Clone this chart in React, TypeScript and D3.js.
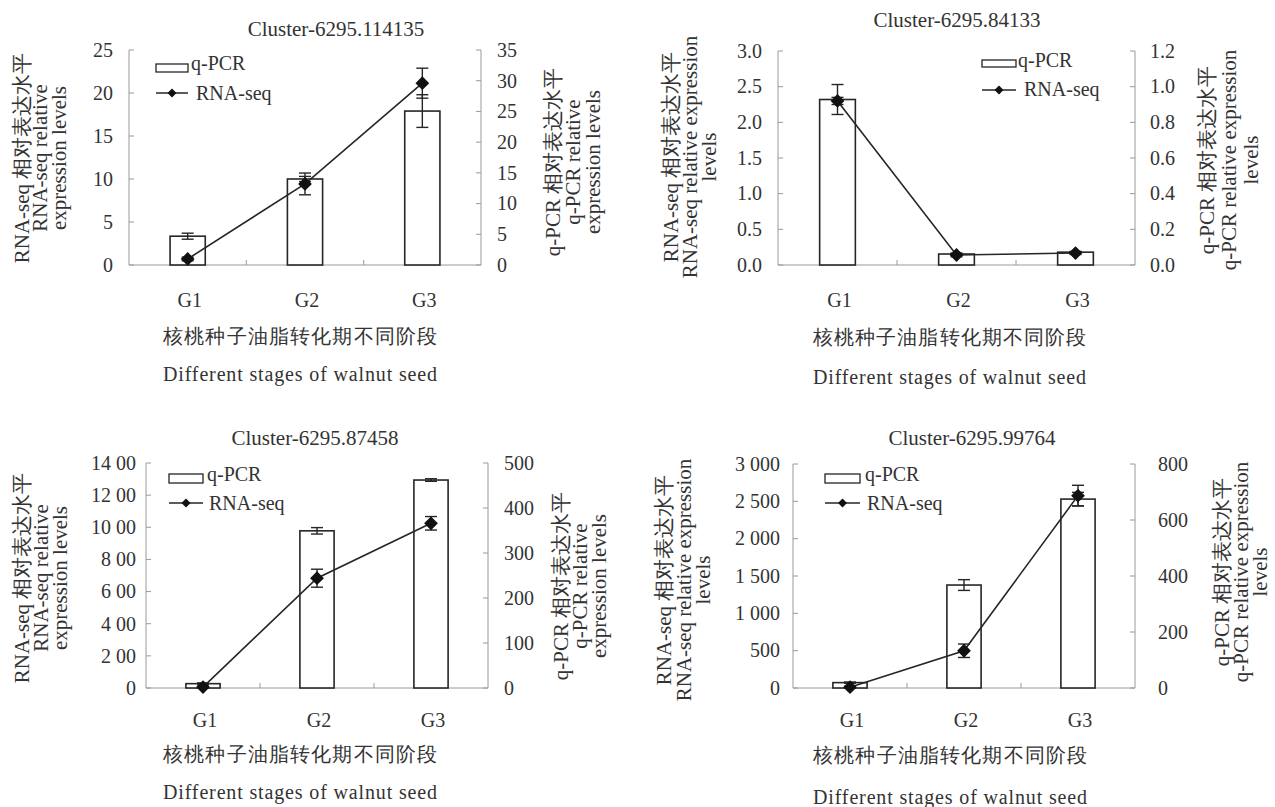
import React from 'react';
import * as d3 from 'd3';

// ---------------- DATA ----------------
const categories = ['G1', 'G2', 'G3'];
const titles = ['Cluster-6295.114135', 'Cluster-6295.84133', 'Cluster-6295.87458', 'Cluster-6295.99764'];
const legendLabels = ['q-PCR', 'RNA-seq'];
const xTitleCn = '核桃种子油脂转化期不同阶段';
const xTitleEn = 'Different stages of walnut seed';

// left-axis (bars) and right-axis (line) series, per panel
const qpcr1 = [3.35, 10.0, 17.9];
const qpcrErr1 = [0.35, 0.3, 1.9];
const rnaseq1 = [0.98, 13.2, 29.6];
const rnaseqErr1 = [0.3, 1.77, 2.44];

const qpcr2 = [2.32, 0.154, 0.18];
const qpcrErr2 = [0.21, 0.01, 0.01];
const rnaseq2 = [0.92, 0.056, 0.067];
const rnaseqErr2 = [0.02, 0.01, 0.008];

const qpcr3 = [27, 978, 1294];
const qpcrErr3 = [5, 20, 8];
const rnaseq3 = [2, 244, 366];
const rnaseqErr3 = [2, 20, 15];

const qpcr4 = [72, 1379, 2530];
const qpcrErr4 = [8, 72, 90];
const rnaseq4 = [3, 133, 687];
const rnaseqErr4 = [3, 24, 37];

// tick values and labels
const leftTicks1 = [0, 5, 10, 15, 20, 25];
const leftTickLabels1 = ['0', '5', '10', '15', '20', '25'];
const rightTicks1 = [0, 5, 10, 15, 20, 25, 30, 35];
const rightTickLabels1 = ['0', '5', '10', '15', '20', '25', '30', '35'];

const leftTicks2 = [0, 0.5, 1, 1.5, 2, 2.5, 3];
const leftTickLabels2 = ['0.0', '0.5', '1.0', '1.5', '2.0', '2.5', '3.0'];
const rightTicks2 = [0, 0.2, 0.4, 0.6, 0.8, 1.0, 1.2];
const rightTickLabels2 = ['0.0', '0.2', '0.4', '0.6', '0.8', '1.0', '1.2'];

const leftTicks3 = [0, 200, 400, 600, 800, 1000, 1200, 1400];
const leftTickLabels3 = ['0', '2 00', '4 00', '6 00', '8 00', '10 00', '12 00', '14 00'];
const rightTicks3 = [0, 100, 200, 300, 400, 500];
const rightTickLabels3 = ['0', '100', '200', '300', '400', '500'];

const leftTicks4 = [0, 500, 1000, 1500, 2000, 2500, 3000];
const leftTickLabels4 = ['0', '500', '1 000', '1 500', '2 000', '2 500', '3 000'];
const rightTicks4 = [0, 200, 400, 600, 800];
const rightTickLabels4 = ['0', '200', '400', '600', '800'];

const leftTitleA = ['RNA-seq 相对表达水平', 'RNA-seq relative', 'expression levels'];
const rightTitleA = ['q-PCR 相对表达水平', 'q-PCR relative', 'expression levels'];
const leftTitleB = ['RNA-seq 相对表达水平', 'RNA-seq relative expression', 'levels'];
const rightTitleB = ['q-PCR 相对表达水平', 'q-PCR relative expression', 'levels'];

// ---------------- LAYOUT ----------------
const panels = [
  {
    title: titles[0], bars: qpcr1, barErr: qpcrErr1, line: rnaseq1, lineErr: rnaseqErr1,
    lt: leftTicks1, ltl: leftTickLabels1, rt: rightTicks1, rtl: rightTickLabels1,
    leftTitle: leftTitleA, rightTitle: rightTitleA,
    plot: { left: 129, right: 481, top: 50, bottom: 265 },
    titlePos: { x: 336, y: 36 },
    legend: { x: 156, w: 32, boxTop: 64, boxH: 8, t1x: 191, t1y: 70, ly: 93, t2x: 196, t2y: 100 },
    leftTitleX: [22, 40, 59], leftTitleY: 158, rightTitleX: [553, 573, 593], rightTitleY: 162,
    leftTickX: 113, rightTickX: 497,
    bottom: { gy: 300, cny: 336, eny: 374, x0: 163, x1: 437 },
  },
  {
    title: titles[1], bars: qpcr2, barErr: qpcrErr2, line: rnaseq2, lineErr: rnaseqErr2,
    lt: leftTicks2, ltl: leftTickLabels2, rt: rightTicks2, rtl: rightTickLabels2,
    leftTitle: leftTitleB, rightTitle: rightTitleB,
    plot: { left: 778, right: 1135, top: 51, bottom: 265 },
    titlePos: { x: 957, y: 27 },
    legend: { x: 982, w: 34, boxTop: 60, boxH: 7, t1x: 1018, t1y: 67, ly: 90, t2x: 1024, t2y: 96 },
    leftTitleX: [671, 690, 709], leftTitleY: 157, rightTitleX: [1207, 1229, 1251], rightTitleY: 160,
    leftTickX: 762, rightTickX: 1150,
    bottom: { gy: 300, cny: 337, eny: 377, x0: 813, x1: 1086 },
  },
  {
    title: titles[2], bars: qpcr3, barErr: qpcrErr3, line: rnaseq3, lineErr: rnaseqErr3,
    lt: leftTicks3, ltl: leftTickLabels3, rt: rightTicks3, rtl: rightTickLabels3,
    leftTitle: leftTitleA, rightTitle: rightTitleA,
    plot: { left: 146, right: 488, top: 463, bottom: 688 },
    titlePos: { x: 315, y: 445 },
    legend: { x: 169, w: 34, boxTop: 474, boxH: 9, t1x: 207, t1y: 481, ly: 503, t2x: 209, t2y: 510 },
    leftTitleX: [22, 41, 60], leftTitleY: 578, rightTitleX: [561, 580, 599], rightTitleY: 586,
    leftTickX: 136, rightTickX: 504,
    bottom: { gy: 720, cny: 754, eny: 792, x0: 163, x1: 437 },
  },
  {
    title: titles[3], bars: qpcr4, barErr: qpcrErr4, line: rnaseq4, lineErr: rnaseqErr4,
    lt: leftTicks4, ltl: leftTickLabels4, rt: rightTicks4, rtl: rightTickLabels4,
    leftTitle: leftTitleB, rightTitle: rightTitleB,
    plot: { left: 793, right: 1135, top: 464, bottom: 688 },
    titlePos: { x: 972, y: 445 },
    legend: { x: 825, w: 35, boxTop: 474, boxH: 9, t1x: 865, t1y: 481, ly: 503, t2x: 867, t2y: 510 },
    leftTitleX: [664, 684, 703], leftTitleY: 580, rightTitleX: [1222, 1241, 1260], rightTitleY: 572,
    leftTickX: 780, rightTickX: 1158,
    bottom: { gy: 720, cny: 755, eny: 797, x0: 813, x1: 1087 },
  },
];

const FONT = "'Liberation Serif', 'Times New Roman', serif";
const TEXT = '#333333';
const AXIS = '#9a9a9a';
const INK = '#262626';
const FS = 20;
const FS_TITLE = 21;

function diamondPath(size: number) {
  return d3.symbol().type(d3.symbolSquare).size(size)() as string;
}

function Panel({ p }: { p: any }) {
  const { plot } = p;
  const x = d3.scaleBand<string>().domain(categories).range([plot.left, plot.right])
    .paddingInner(0.7).paddingOuter(0.35);
  const step = (plot.right - plot.left) / categories.length;
  const yL = d3.scaleLinear().domain([p.lt[0], p.lt[p.lt.length - 1]]).range([plot.bottom, plot.top]);
  const yR = d3.scaleLinear().domain([p.rt[0], p.rt[p.rt.length - 1]]).range([plot.bottom, plot.top]);
  const cx = (i: number) => (x(categories[i]) as number) + x.bandwidth() / 2;
  const linePath = d3.line<number>().x((_, i) => cx(i)).y((d) => yR(d))(p.line) as string;
  const cap = 6;
  const dia = diamondPath(95);
  const diaSmall = diamondPath(40);
  const b = p.bottom;
  const tp = { fontSize: FS, fill: TEXT, fontFamily: FONT };
  const tpT = { fontSize: FS_TITLE, fill: TEXT, fontFamily: FONT };

  return (
    <g>
      <text x={p.titlePos.x} y={p.titlePos.y} textAnchor="middle" {...tpT}>{p.title}</text>

      {/* axes */}
      <line x1={plot.left} x2={plot.left} y1={plot.top} y2={plot.bottom} stroke={AXIS} strokeWidth={1} />
      <line x1={plot.right} x2={plot.right} y1={plot.top} y2={plot.bottom} stroke={AXIS} strokeWidth={1} />
      <line x1={plot.left} x2={plot.right} y1={plot.bottom} y2={plot.bottom} stroke={AXIS} strokeWidth={1} />
      {p.lt.map((t: number, i: number) => (
        <g key={'lt' + i}>
          <line x1={plot.left} x2={plot.left + 5} y1={yL(t)} y2={yL(t)} stroke={AXIS} />
          <text x={p.leftTickX} y={yL(t)} dy="0.34em" textAnchor="end" {...tp}>{p.ltl[i]}</text>
        </g>
      ))}
      {p.rt.map((t: number, i: number) => (
        <g key={'rt' + i}>
          <line x1={plot.right} x2={plot.right - 5} y1={yR(t)} y2={yR(t)} stroke={AXIS} />
          <text x={p.rightTickX} y={yR(t)} dy="0.34em" textAnchor="start" {...tp}>{p.rtl[i]}</text>
        </g>
      ))}
      {d3.range(1, categories.length).map((k) => (
        <line key={'xt' + k} x1={plot.left + step * k} x2={plot.left + step * k} y1={plot.bottom} y2={plot.bottom - 5} stroke={AXIS} />
      ))}

      {/* bars */}
      {p.bars.map((v: number, i: number) => (
        <rect key={'b' + i} x={x(categories[i])} y={yL(v)} width={x.bandwidth()} height={plot.bottom - yL(v)}
          fill="#fff" stroke={INK} strokeWidth={1.6} />
      ))}
      {p.bars.map((v: number, i: number) => {
        const e = p.barErr[i];
        const y1 = yL(v + e), y2 = yL(Math.max(0, v - e));
        return (
          <g key={'be' + i} stroke={INK} strokeWidth={1.4}>
            <line x1={cx(i)} x2={cx(i)} y1={y1} y2={y2} />
            <line x1={cx(i) - cap} x2={cx(i) + cap} y1={y1} y2={y1} />
            <line x1={cx(i) - cap} x2={cx(i) + cap} y1={y2} y2={y2} />
          </g>
        );
      })}

      {/* line */}
      <path d={linePath} fill="none" stroke={INK} strokeWidth={1.6} />
      {p.line.map((v: number, i: number) => {
        const e = p.lineErr[i];
        const y1 = yR(v + e), y2 = yR(Math.max(0, v - e));
        return (
          <g key={'le' + i} stroke={INK} strokeWidth={1.4}>
            <line x1={cx(i)} x2={cx(i)} y1={y1} y2={y2} />
            <line x1={cx(i) - cap} x2={cx(i) + cap} y1={y1} y2={y1} />
            <line x1={cx(i) - cap} x2={cx(i) + cap} y1={y2} y2={y2} />
          </g>
        );
      })}
      {p.line.map((v: number, i: number) => (
        <path key={'d' + i} d={dia} transform={`translate(${cx(i)},${yR(v)}) rotate(45)`} fill="#111" />
      ))}

      {/* legend */}
      <rect x={p.legend.x} y={p.legend.boxTop} width={p.legend.w} height={p.legend.boxH} fill="#fff" stroke={INK} strokeWidth={1.3} />
      <text x={p.legend.t1x} y={p.legend.t1y} {...tp}>{legendLabels[0]}</text>
      <line x1={p.legend.x} x2={p.legend.x + p.legend.w} y1={p.legend.ly} y2={p.legend.ly} stroke={INK} strokeWidth={1.5} />
      <path d={diaSmall} transform={`translate(${p.legend.x + p.legend.w / 2},${p.legend.ly}) rotate(45)`} fill="#111" />
      <text x={p.legend.t2x} y={p.legend.t2y} {...tp}>{legendLabels[1]}</text>

      {/* axis titles */}
      {p.leftTitle.map((s: string, i: number) => (
        <text key={'lti' + i} transform={`translate(${p.leftTitleX[i]},${p.leftTitleY}) rotate(-90)`} textAnchor="middle"
          dominantBaseline="central" {...tpT}>{s}</text>
      ))}
      {p.rightTitle.map((s: string, i: number) => (
        <text key={'rti' + i} transform={`translate(${p.rightTitleX[i]},${p.rightTitleY}) rotate(-90)`} textAnchor="middle"
          dominantBaseline="central" {...tpT}>{s}</text>
      ))}

      {/* x labels */}
      {categories.map((c, i) => (
        <text key={'g' + i} x={cx(i) + 2} y={b.gy} dominantBaseline="central" textAnchor="middle" {...tp}>{c}</text>
      ))}
      <text x={b.x0} y={b.cny} dominantBaseline="central" {...tp}
        textLength={b.x1 - b.x0} lengthAdjust="spacing">{xTitleCn}</text>
      <text x={b.x0} y={b.eny} dominantBaseline="central" {...tp}
        textLength={b.x1 - b.x0} lengthAdjust="spacing">{xTitleEn}</text>
    </g>
  );
}

export default function App() {
  return (
    <svg width={1275} height={807} viewBox="0 0 1275 807"
      style={{ position: 'absolute', left: 0, top: 0, background: '#fff' }}>
      <rect x={0} y={0} width={1275} height={807} fill="#fff" />
      {panels.map((p, i) => <Panel key={i} p={p} />)}
    </svg>
  );
}
